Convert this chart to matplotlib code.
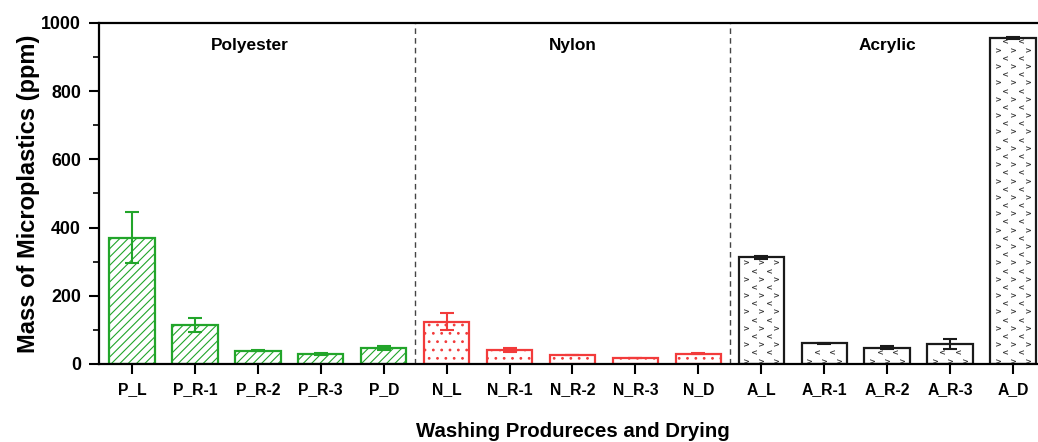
import numpy as np
import matplotlib
matplotlib.use("Agg")
import matplotlib.pyplot as plt
from matplotlib.ticker import MultipleLocator

plt.rcParams["font.family"] = ["Liberation Sans", "DejaVu Sans"]
plt.rcParams["hatch.linewidth"] = 0.8

# ── Data ──────────────────────────────────────────────────────────────────────
labels = ["P_L", "P_R-1", "P_R-2", "P_R-3", "P_D",
          "N_L", "N_R-1", "N_R-2", "N_R-3", "N_D",
          "A_L", "A_R-1", "A_R-2", "A_R-3", "A_D"]
poly_vals = [370, 114, 39, 29, 47]
poly_err = [75, 20, 2, 4, 5]
nylon_vals = [124, 41, 26, 18, 30]
nylon_err = [25, 5, 1, 1, 1]
acryl_vals = [313, 61, 48, 58, 956]
acryl_err = [5, 2, 5, 14, 3]
groups = ["Polyester", "Nylon", "Acrylic"]

GREEN = "#22a52a"
RED = "#f23b3b"
BLACK = "#1a1a1a"

fig = plt.figure(figsize=(10.38, 4.42), dpi=100)
ax = fig.add_axes([99 / 1038, 78 / 442, 947 / 1038, 341 / 442])

width = 0.72
x = np.arange(15)
xp, xn, xa = x[0:5], x[5:10], x[10:15]

ax.bar(xp, poly_vals, width, facecolor="white", edgecolor=GREEN, hatch="////",
       linewidth=1.6, zorder=2)
ax.errorbar(xp, poly_vals, yerr=poly_err, fmt="none", ecolor=GREEN,
            elinewidth=1.5, capsize=5, capthick=1.5, zorder=3)

ax.bar(xn, nylon_vals, width, facecolor="white", edgecolor=RED, hatch="..",
       linewidth=1.6, zorder=2)
ax.errorbar(xn, nylon_vals, yerr=nylon_err, fmt="none", ecolor=RED,
            elinewidth=1.5, capsize=5, capthick=1.5, zorder=3)

bars_a = ax.bar(xa, acryl_vals, width, facecolor="white", edgecolor=BLACK,
                linewidth=1.6, zorder=2)
# chevron fill pattern for acrylic bars (staggered rows of > and <)
for xi, h, b in zip(xa, acryl_vals, bars_a):
    rows = np.arange(10, h - 3, 24)
    for r, yy in enumerate(rows):
        if r % 2 == 0:
            cols, m = xi + np.array([-0.24, 0.0, 0.24]), r"$\mathbf{>}$"
        else:
            cols, m = xi + np.array([-0.12, 0.12]), r"$\mathbf{<}$"
        sc = ax.scatter(cols, np.full(len(cols), yy), marker=m, s=13,
                        color="#3a3a3a", linewidths=0, zorder=2.5)
        sc.set_clip_path(b)
ax.errorbar(xa, acryl_vals, yerr=acryl_err, fmt="none", ecolor=BLACK,
            elinewidth=1.5, capsize=5, capthick=1.5, zorder=3)

# group separators and titles
for sep in (4.5, 9.5):
    ax.axvline(sep, color="#444444", linestyle=(0, (4, 3)), linewidth=1.0, zorder=1)
for xc, g in zip([1.87, 7.0, 12.0], groups):
    ax.text(xc, 935, g, ha="center", va="center", fontsize=12.4,
            fontweight="bold")

ax.set_xlim(-0.525, 14.525)
ax.set_ylim(0, 1000)
ax.set_xticks(x)
ax.set_xticklabels(labels, fontsize=11.3, fontweight="bold")
ax.yaxis.set_major_locator(MultipleLocator(200))
ax.yaxis.set_minor_locator(MultipleLocator(100))
for t in ax.get_yticklabels():
    t.set_fontweight("bold")
    t.set_fontsize(12.8)
ax.tick_params(axis="both", which="major", direction="out", length=7, width=1.5)
ax.tick_params(axis="y", which="minor", direction="out", length=4, width=1.2)
ax.tick_params(axis="y", pad=6)
ax.tick_params(axis="x", pad=6)
for s in ax.spines.values():
    s.set_linewidth(1.6)

ax.set_ylabel("Mass of Microplastics (ppm)", fontsize=17, fontweight="bold",
              labelpad=1)
ax.set_xlabel("Washing Produreces and Drying", fontsize=14.7, fontweight="bold",
              labelpad=18)

fig.savefig("out.png", dpi=100)
